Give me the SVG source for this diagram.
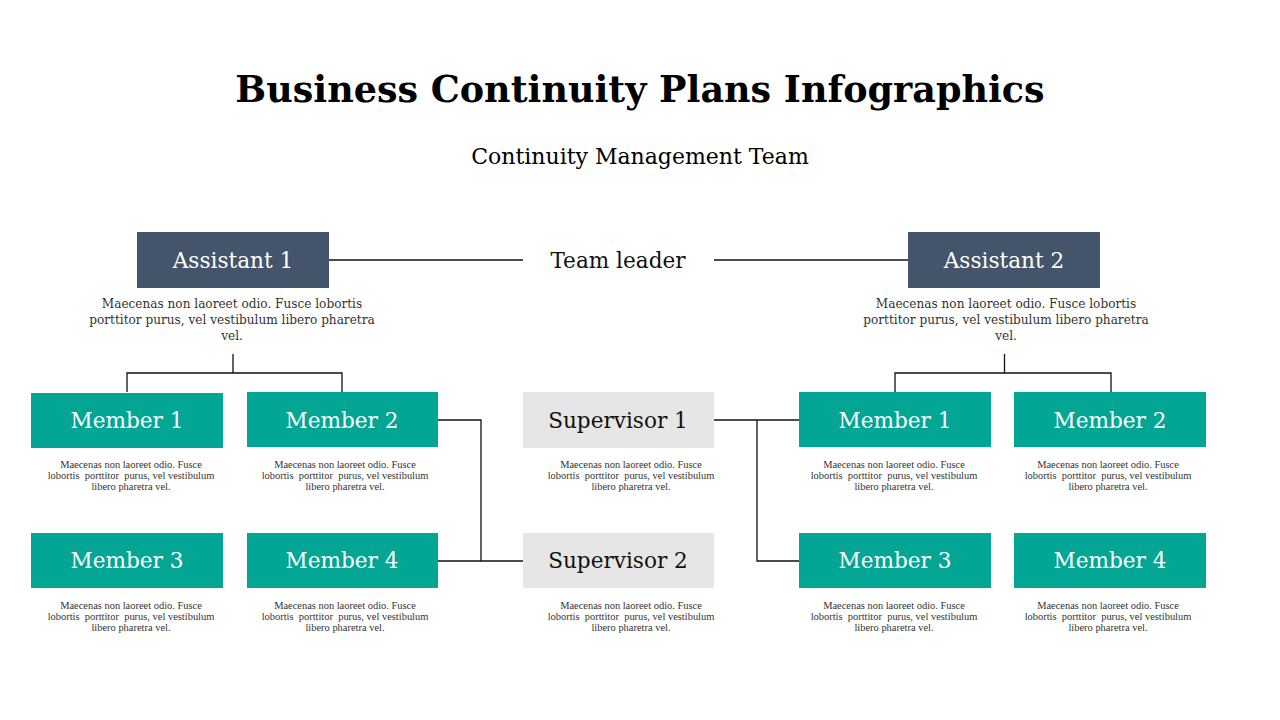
<svg xmlns="http://www.w3.org/2000/svg" width="1280" height="720" viewBox="0 0 1280 720">
<style>
.title{font-family:"DejaVu Serif","Liberation Serif",serif;font-weight:bold;font-size:36.5px;fill:#000;text-anchor:middle}
.sub{font-family:"DejaVu Serif","Liberation Serif",serif;font-size:22px;fill:#000;text-anchor:middle}
.lbl{font-family:"DejaVu Serif","Liberation Serif",serif;font-size:21.6px;text-anchor:middle}
.w{fill:#fff}
.k{fill:#111}
.asst{fill:#44546A}
.mem{fill:#03A595}
.sup{fill:#E6E6E6}
.d1{font-family:"DejaVu Serif","Liberation Serif",serif;font-size:12.1px;fill:#333;text-anchor:middle}
.d2{font-family:"Liberation Serif",serif;font-size:10.45px;fill:#333;text-anchor:middle;white-space:pre}
.c{stroke:#111;stroke-width:1.3;fill:none}
</style>
<rect width="1280" height="720" fill="#fff"/>
<text class="title" x="640" y="102">Business Continuity Plans Infographics</text>
<text class="sub" x="640" y="164">Continuity Management Team</text>

<g id="connectors">
<path class="c" d="M329 260H523M714 260H908"/>
<path class="c" d="M233 354V373M127 392V373H342V392"/>
<path class="c" d="M1004.5 354V373M895 392V373H1111V392"/>
<path class="c" d="M438 420H481V561H523M438 561H481"/>
<path class="c" d="M714 420H799M757 420V561H799"/>
</g>

<g id="team-leader"><text class="lbl k" x="618" y="268">Team leader</text></g>

<g id="assistant1">
<rect class="asst" x="137" y="232" width="192" height="56"/>
<text class="lbl w" x="233" y="268">Assistant 1</text>
<text class="d1"><tspan x="232" y="308">Maecenas non laoreet odio. Fusce lobortis</tspan><tspan x="232" y="324">porttitor purus, vel vestibulum libero pharetra</tspan><tspan x="232" y="340">vel.</tspan></text>
</g>
<g id="assistant2">
<rect class="asst" x="908" y="232" width="192" height="56"/>
<text class="lbl w" x="1004" y="268">Assistant 2</text>
<text class="d1"><tspan x="1006" y="308">Maecenas non laoreet odio. Fusce lobortis</tspan><tspan x="1006" y="324">porttitor purus, vel vestibulum libero pharetra</tspan><tspan x="1006" y="340">vel.</tspan></text>
</g>

<g id="left-member1">
<rect class="mem" x="31" y="393" width="192" height="55"/>
<text class="lbl w" x="127" y="428">Member 1</text>
<text class="d2"><tspan x="131" y="468">Maecenas non laoreet odio. Fusce</tspan><tspan x="131" y="479">lobortis  porttitor  purus, vel vestibulum</tspan><tspan x="131" y="490">libero pharetra vel.</tspan></text>
</g>
<g id="left-member2">
<rect class="mem" x="247" y="392" width="191" height="55"/>
<text class="lbl w" x="342" y="428">Member 2</text>
<text class="d2"><tspan x="345" y="468">Maecenas non laoreet odio. Fusce</tspan><tspan x="345" y="479">lobortis  porttitor  purus, vel vestibulum</tspan><tspan x="345" y="490">libero pharetra vel.</tspan></text>
</g>
<g id="left-member3">
<rect class="mem" x="31" y="533" width="192" height="55"/>
<text class="lbl w" x="127" y="568">Member 3</text>
<text class="d2"><tspan x="131" y="609">Maecenas non laoreet odio. Fusce</tspan><tspan x="131" y="620">lobortis  porttitor  purus, vel vestibulum</tspan><tspan x="131" y="631">libero pharetra vel.</tspan></text>
</g>
<g id="left-member4">
<rect class="mem" x="247" y="533" width="191" height="55"/>
<text class="lbl w" x="342" y="568">Member 4</text>
<text class="d2"><tspan x="345" y="609">Maecenas non laoreet odio. Fusce</tspan><tspan x="345" y="620">lobortis  porttitor  purus, vel vestibulum</tspan><tspan x="345" y="631">libero pharetra vel.</tspan></text>
</g>

<g id="supervisor1">
<rect class="sup" x="523" y="392" width="191" height="56"/>
<text class="lbl k" x="618" y="428">Supervisor 1</text>
<text class="d2"><tspan x="631" y="468">Maecenas non laoreet odio. Fusce</tspan><tspan x="631" y="479">lobortis  porttitor  purus, vel vestibulum</tspan><tspan x="631" y="490">libero pharetra vel.</tspan></text>
</g>
<g id="supervisor2">
<rect class="sup" x="523" y="533" width="191" height="55"/>
<text class="lbl k" x="618" y="568">Supervisor 2</text>
<text class="d2"><tspan x="631" y="609">Maecenas non laoreet odio. Fusce</tspan><tspan x="631" y="620">lobortis  porttitor  purus, vel vestibulum</tspan><tspan x="631" y="631">libero pharetra vel.</tspan></text>
</g>

<g id="right-member1">
<rect class="mem" x="799" y="392" width="192" height="55"/>
<text class="lbl w" x="895" y="428">Member 1</text>
<text class="d2"><tspan x="894" y="468">Maecenas non laoreet odio. Fusce</tspan><tspan x="894" y="479">lobortis  porttitor  purus, vel vestibulum</tspan><tspan x="894" y="490">libero pharetra vel.</tspan></text>
</g>
<g id="right-member2">
<rect class="mem" x="1014" y="392" width="192" height="55"/>
<text class="lbl w" x="1110" y="428">Member 2</text>
<text class="d2"><tspan x="1108" y="468">Maecenas non laoreet odio. Fusce</tspan><tspan x="1108" y="479">lobortis  porttitor  purus, vel vestibulum</tspan><tspan x="1108" y="490">libero pharetra vel.</tspan></text>
</g>
<g id="right-member3">
<rect class="mem" x="799" y="533" width="192" height="55"/>
<text class="lbl w" x="895" y="568">Member 3</text>
<text class="d2"><tspan x="894" y="609">Maecenas non laoreet odio. Fusce</tspan><tspan x="894" y="620">lobortis  porttitor  purus, vel vestibulum</tspan><tspan x="894" y="631">libero pharetra vel.</tspan></text>
</g>
<g id="right-member4">
<rect class="mem" x="1014" y="533" width="192" height="55"/>
<text class="lbl w" x="1110" y="568">Member 4</text>
<text class="d2"><tspan x="1108" y="609">Maecenas non laoreet odio. Fusce</tspan><tspan x="1108" y="620">lobortis  porttitor  purus, vel vestibulum</tspan><tspan x="1108" y="631">libero pharetra vel.</tspan></text>
</g>
</svg>
